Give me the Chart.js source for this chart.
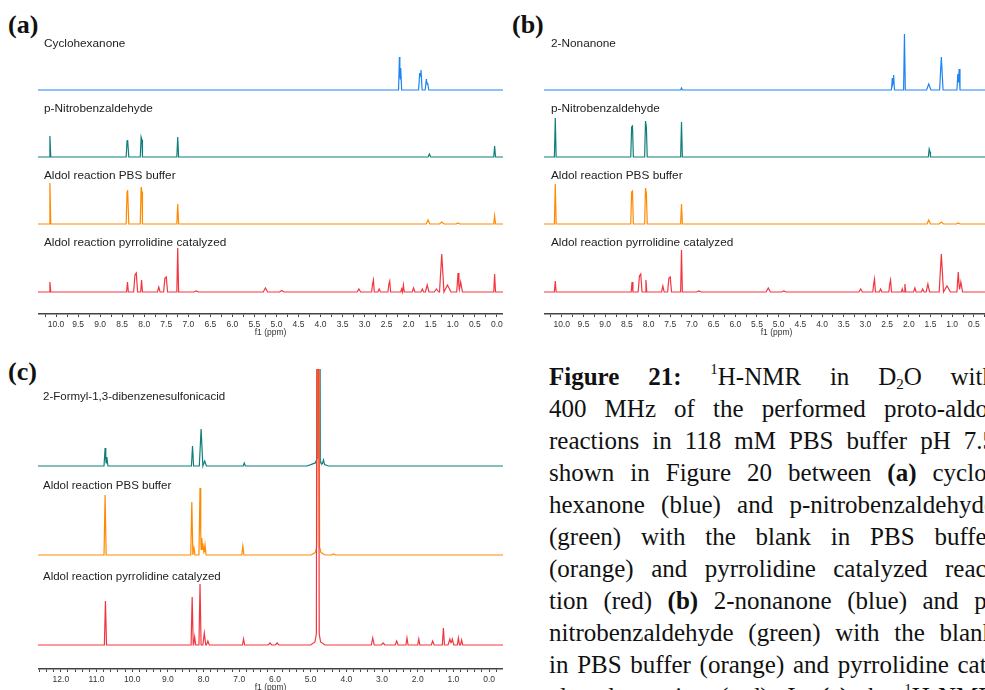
<!DOCTYPE html>
<html>
<head>
<meta charset="utf-8">
<script src="https://cdn.jsdelivr.net/npm/chart.js@4.4.1/dist/chart.umd.min.js"></script>
<style>
  html, body { margin: 0; padding: 0; background: #fff; }
  body { width: 985px; height: 690px; overflow: hidden; position: relative; font-family: 'Liberation Sans', Arial, sans-serif; }
  canvas { position: absolute; }
  .panel { position: absolute; font-family: 'Liberation Serif', serif; font-weight: bold; font-size: 26px; line-height: 26px; color: #111; }
  .name { position: absolute; font-size: 11.8px; line-height: 14px; color: #222; white-space: nowrap; }
  #caption { position: absolute; left: 549px; top: 361px; width: 446px; font-family: 'Liberation Serif', serif; font-size: 25px; line-height: 32px; color: #111; }
  #caption .ln { height: 32px; overflow: hidden; text-align: justify; text-align-last: justify; }
  sup { font-size: 60%; vertical-align: 0.75em; line-height: 0; }
  sub { font-size: 60%; vertical-align: -0.25em; line-height: 0; }
</style>
</head>
<body>
<div class="panel" style="left:8px; top:12px">(a)</div>
<div class="panel" style="left:512px; top:12px">(b)</div>
<div class="panel" style="left:8px; top:359px">(c)</div>

<canvas id="chartA" width="465" height="308" style="left:38px; top:30px"></canvas>
<canvas id="chartB" width="465" height="308" style="left:544px; top:30px"></canvas>
<canvas id="chartC" width="465" height="324" style="left:38px; top:369px"></canvas>

<div class="name" style="left:44px; top:36px">Cyclohexanone</div>
<div class="name" style="left:44px; top:101px">p-Nitrobenzaldehyde</div>
<div class="name" style="left:44px; top:168px">Aldol reaction PBS buffer</div>
<div class="name" style="left:44px; top:235px">Aldol reaction pyrrolidine catalyzed</div>

<div class="name" style="left:551px; top:36px">2-Nonanone</div>
<div class="name" style="left:551px; top:101px">p-Nitrobenzaldehyde</div>
<div class="name" style="left:551px; top:168px">Aldol reaction PBS buffer</div>
<div class="name" style="left:551px; top:235px">Aldol reaction pyrrolidine catalyzed</div>

<div class="name" style="left:43px; top:389px; font-size:11.5px">2-Formyl-1,3-dibenzenesulfonicacid</div>
<div class="name" style="left:43px; top:478px; font-size:11.5px">Aldol reaction PBS buffer</div>
<div class="name" style="left:43px; top:569px; font-size:11.5px">Aldol reaction pyrrolidine catalyzed</div>

<div id="caption">
  <div class="ln"><b>Figure 21:</b> <sup>1</sup>H-NMR in D<sub>2</sub>O with</div>
  <div class="ln">400 MHz of the performed proto-aldol</div>
  <div class="ln">reactions in 118 mM PBS buffer pH 7.5</div>
  <div class="ln">shown in Figure 20 between <b>(a)</b> cyclo-</div>
  <div class="ln">hexanone (blue) and p-nitrobenzaldehyde</div>
  <div class="ln">(green) with the blank in PBS buffer</div>
  <div class="ln">(orange) and pyrrolidine catalyzed reac-</div>
  <div class="ln">tion (red) <b>(b)</b> 2-nonanone (blue) and p-</div>
  <div class="ln">nitrobenzaldehyde (green) with the blank</div>
  <div class="ln">in PBS buffer (orange) and pyrrolidine cat-</div>
  <div class="ln">alyzed reaction (red). In <b>(c)</b> the <sup>1</sup>H-NMR</div>
</div>

<script>
// Peaks: [ppm, height, half-width in ppm (optional)]
const aCyclohexanone = [[2.21, 33], [2.18, 22], [1.75, 17, 0.025], [1.72, 20, 0.025], [1.60, 11, 0.025], [1.57, 7, 0.025]];
const aNitro = [[10.14, 21], [8.39, 16], [8.37, 17], [8.07, 20], [8.05, 17], [7.24, 20], [1.53, 3, 0.03], [0.05, 11]];
const aPBS = [[10.14, 41], [8.39, 32], [8.37, 34], [8.07, 37], [8.05, 32], [7.24, 20], [1.56, 4, 0.04], [1.25, 2, 0.05], [0.88, 1, 0.04], [0.05, 8]];
const aPyrrolidine = [[10.14, 10], [8.38, 10], [8.21, 17, 0.03], [8.18, 19, 0.03], [8.06, 12], [7.67, 5, 0.03], [7.53, 14, 0.03], [7.50, 15, 0.03],
  [7.24, 44], [6.82, 1, 0.05], [5.25, 4, 0.05], [4.88, 1.5, 0.05], [3.13, 3, 0.04], [2.82, 8], [2.80, 12], [2.67, 3, 0.03], [2.45, 8], [2.43, 11],
  [2.16, 3], [2.12, 7], [1.89, 4, 0.03], [1.69, 3, 0.03], [1.58, 7, 0.04], [1.37, 3, 0.05], [1.25, 38, 0.05], [1.12, 7, 0.08], [0.88, 19, 0.03],
  [0.82, 10, 0.04], [0.05, 18]];

const bNonanone = [[7.24, 2], [2.38, 12], [2.35, 15], [2.10, 56], [1.54, 6, 0.05], [1.25, 33, 0.04], [0.87, 16], [0.84, 21]];
const bNitro = [[10.15, 39], [8.39, 30], [8.37, 31], [8.07, 36], [8.05, 30], [7.24, 35], [1.53, 8], [1.51, 5]];
const bPBS = [[10.15, 40], [8.39, 32], [8.37, 33], [8.07, 36], [8.05, 31], [7.24, 20], [1.54, 4, 0.04], [1.25, 2, 0.05], [0.86, 1, 0.04]];
const bPyrrolidine = [[10.15, 11], [8.38, 10], [8.21, 16, 0.03], [8.18, 18, 0.03], [8.06, 12], [7.67, 6, 0.03], [7.53, 14, 0.03], [7.50, 15, 0.03],
  [7.24, 42], [6.84, 1, 0.05], [5.24, 4, 0.05], [4.88, 1, 0.05], [3.11, 3, 0.04], [2.81, 8], [2.79, 13], [2.65, 3, 0.03], [2.44, 8], [2.42, 12],
  [2.15, 3], [2.09, 8], [1.86, 4, 0.03], [1.68, 3, 0.03], [1.56, 8, 0.04], [1.25, 38, 0.05], [1.12, 6, 0.08], [0.86, 20, 0.03], [0.80, 10, 0.04]];

const cAldehyde = [[10.76, 18], [10.71, 9], [8.31, 20], [8.07, 37, 0.05], [7.97, 5, 0.05], [6.86, 3], [4.77, 800, 0.04], [4.79, 6, 0.08],
  [4.80, 4, 0.3], [4.64, 4, 0.03]];
const cPBS = [[10.76, 60], [8.33, 53], [8.27, 7], [8.10, 67], [8.05, 17], [8.01, 8], [7.96, 10], [6.90, 9], [4.79, 800, 0.04], [4.79, 10, 0.08],
  [4.79, 4, 0.2], [4.36, 1, 0.05]];
const cPyrrolidine = [[10.75, 44], [8.32, 48], [8.25, 8], [8.10, 61], [7.98, 12, 0.04], [7.88, 4, 0.04], [6.88, 6], [6.14, 2, 0.05], [5.94, 2, 0.05],
  [4.80, 800, 0.04], [4.80, 14, 0.08], [4.80, 5, 0.2], [3.26, 7, 0.04], [2.97, 2, 0.05], [2.59, 4, 0.04], [2.30, 7], [1.97, 6], [1.58, 4, 0.04],
  [1.28, 17], [1.10, 6, 0.05], [1.03, 6, 0.04], [0.86, 7], [0.77, 5]];

// labelled ticks
const abTickLabels = [10.0, 9.5, 9.0, 8.5, 8.0, 7.5, 7.0, 6.5, 6.0, 5.5, 5.0, 4.5, 4.0, 3.5, 3.0, 2.5, 2.0, 1.5, 1.0, 0.5, 0.0];
const cTickLabels = [12.0, 11.0, 10.0, 9.0, 8.0, 7.0, 6.0, 5.0, 4.0, 3.0, 2.0, 1.0, 0.0];

const BLUE = '#1f84f2', TEAL = '#0f7f7b', ORANGE = '#ff8a00', RED = '#f2363f';

Chart.defaults.font.family = "'Liberation Sans', Arial, sans-serif";

// sum of triangular peaks, sampled at every peak vertex
function spectrum(peaks, offset, range, defW) {
  const xs = [range.min, range.max];
  peaks.forEach(([p, h, w]) => { w = w || defW; xs.push(p - w, p, p + w); });
  xs.sort((a, b) => b - a);
  return xs.map(x => ({
    x: x,
    y: offset + peaks.reduce((s, [p, h, w]) => s + h * Math.max(0, 1 - Math.abs(x - p) / (w || defW)), 0)
  }));
}

function makePanel(id, range, yMax, labels, minorStep, defW, traces) {
  new Chart(document.getElementById(id), {
    type: 'line',
    data: {
      datasets: traces.map(t => ({
        data: spectrum(t.peaks, t.offset, range, defW),
        borderColor: t.color,
        borderWidth: 1.2,
        pointRadius: 0,
        tension: 0
      }))
    },
    options: {
      responsive: false,
      animation: false,
      devicePixelRatio: 1,
      layout: { padding: 0 },
      plugins: { legend: { display: false }, tooltip: { enabled: false } },
      scales: {
        x: {
          type: 'linear',
          reverse: true,
          min: range.min,
          max: range.max,
          afterBuildTicks: (scale) => {
            const ticks = [];
            for (let k = Math.ceil(range.min / minorStep - 1e-9); k * minorStep <= range.max + 1e-9; k++) {
              ticks.push({ value: Math.round(k * minorStep * 1000) / 1000 });
            }
            scale.ticks = ticks;
          },
          afterFit: (scale) => { scale.height = 24; },
          ticks: {
            autoSkip: false,
            maxRotation: 0,
            minRotation: 0,
            padding: 3,
            color: '#333',
            font: { size: 8.5 },
            callback: (v) => labels.some(m => Math.abs(m - v) < 1e-6) ? Number(v).toFixed(1) : ''
          },
          grid: { drawOnChartArea: false, tickLength: 3, color: '#444' },
          border: { color: '#444', width: 1.5 },
          title: { display: true, text: 'f1 (ppm)', color: '#333', font: { size: 8.5 }, padding: 0 }
        },
        y: { display: false, min: 0, max: yMax }
      }
    }
  });
}

makePanel('chartA', { min: -0.14, max: 10.41 }, 284, abTickLabels, 0.25, 0.02, [
  { peaks: aPyrrolidine, offset: 22, color: RED },
  { peaks: aPBS, offset: 90, color: ORANGE },
  { peaks: aNitro, offset: 157, color: TEAL },
  { peaks: aCyclohexanone, offset: 224, color: BLUE }
]);

makePanel('chartB', { min: -0.31, max: 10.41 }, 284, abTickLabels, 0.25, 0.02, [
  { peaks: bPyrrolidine, offset: 22, color: RED },
  { peaks: bPBS, offset: 90, color: ORANGE },
  { peaks: bNitro, offset: 157, color: TEAL },
  { peaks: bNonanone, offset: 224, color: BLUE }
]);

makePanel('chartC', { min: -0.39, max: 12.64 }, 300, cTickLabels, 0.2, 0.03, [
  { peaks: cPyrrolidine, offset: 24, color: RED },
  { peaks: cPBS, offset: 114, color: ORANGE },
  { peaks: cAldehyde, offset: 203, color: TEAL }
]);
</script>
</body>
</html>
